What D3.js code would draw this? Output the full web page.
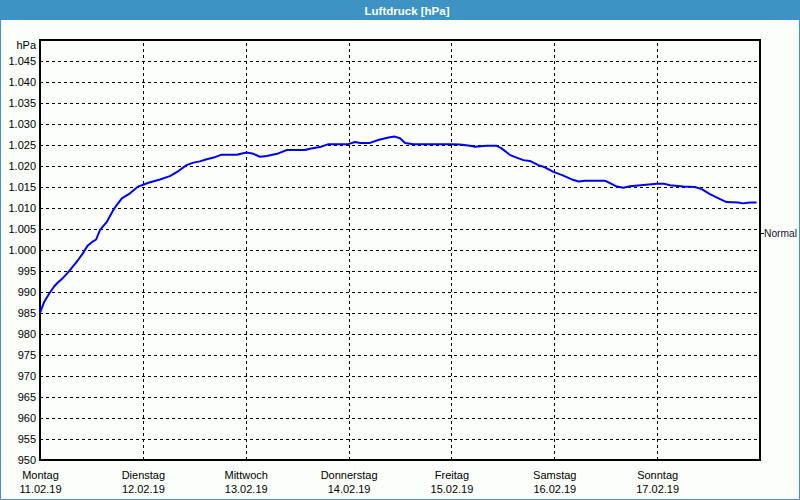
<!DOCTYPE html>
<html>
<head>
<meta charset="utf-8">
<script src="https://cdn.jsdelivr.net/npm/d3@7"></script>
<style>
  html, body { margin: 0; padding: 0; background: #fbfefb; }
  svg { display: block; }
  text { font-family: "Liberation Sans", Arial, sans-serif; }
</style>
</head>
<body>
<svg id="chart" width="800" height="500"></svg>
<script>
// ---- data ----
const title = "Luftdruck [hPa]";
const unitLabel = "hPa";
const dayNames = ["Montag", "Dienstag", "Mittwoch", "Donnerstag", "Freitag", "Samstag", "Sonntag"];
const dayDates = ["11.02.19", "12.02.19", "13.02.19", "14.02.19", "15.02.19", "16.02.19", "17.02.19"];
const yTicks = [950, 955, 960, 965, 970, 975, 980, 985, 990, 995, 1000, 1005, 1010, 1015, 1020, 1025, 1030, 1035, 1040, 1045];
const normalValue = 1004;
const normalLabel = "Normal";
// hours since Monday 00:00
const hours = [0, 1.0, 2.2, 3.3, 4.1, 5.3, 6.5, 7.6, 8.8, 10.0, 11.1, 12.3, 13.1, 14.0, 15.6, 17.1, 17.9, 19.1, 21.0, 22.9,
  25.3, 28.0, 30.3, 32.3, 34.2, 35.8, 37.3, 38.9, 40.8, 42.4, 45.9, 48.2, 49.8, 51.3, 52.9, 55.6, 57.6, 61.8, 63.0, 65.3,
  67.3, 71.9, 73.5, 74.7, 77.0, 78.9, 81.3, 82.8, 84.0, 85.2, 87.1, 96.1, 98.0, 100.3, 101.5, 104.2, 106.6, 107.7, 109.7, 111.2,
  112.8, 114.3, 116.3, 117.8, 119.8, 121.7, 124.1, 125.7, 127.2, 131.8, 133.0, 134.6, 136.1, 137.7, 140.8, 143.9, 145.5, 147.0, 150.1, 152.8,
  154.4, 156.3, 158.7, 160.2, 162.9, 164.0, 165.7, 167.2];
const pressure = [985.0, 987.7, 989.7, 991.3, 992.2, 993.3, 994.6, 996.0, 997.5, 999.2, 1001.0, 1002.0, 1002.5, 1004.8, 1006.7, 1009.5, 1010.7, 1012.3, 1013.5, 1015.1,
  1016.0, 1016.8, 1017.6, 1018.8, 1020.2, 1020.8, 1021.1, 1021.6, 1022.1, 1022.7, 1022.7, 1023.2, 1022.9, 1022.2, 1022.4, 1023.0, 1023.8, 1023.8, 1024.1, 1024.5,
  1025.2, 1025.2, 1025.7, 1025.5, 1025.5, 1026.2, 1026.8, 1027.0, 1026.6, 1025.5, 1025.2, 1025.2, 1025.1, 1024.8, 1024.6, 1024.8, 1024.8, 1024.2, 1022.6, 1022.0,
  1021.4, 1021.2, 1020.2, 1019.7, 1018.6, 1017.9, 1016.8, 1016.3, 1016.5, 1016.5, 1015.9, 1015.1, 1014.8, 1015.2, 1015.5, 1015.8, 1015.8, 1015.4, 1015.1, 1015.0,
  1014.5, 1013.3, 1012.1, 1011.4, 1011.3, 1011.1, 1011.3, 1011.3];

(function () {
// ---- layout ----
const W = 800, H = 500;
const pL = 40, pR = 760, pT = 40, pB = 460;

const svg = d3.select("#chart");
const de = d3.formatLocale({decimal: ",", thousands: ".", grouping: [3], currency: ["", "€"]});
const fmt = de.format(",d");

const x = d3.scaleLinear().domain([0, 168]).range([pL, pR]);
const y = d3.scaleLinear().domain([950, 1050]).range([pB, pT]);
const dayTicks = d3.range(dayNames.length).map(i => i * 24);

// background
svg.append("rect").attr("x", 0).attr("y", 0).attr("width", W).attr("height", H).attr("fill", "#fbfefb");

// title bar
svg.append("rect").attr("x", 0).attr("y", 0).attr("width", W).attr("height", 20).attr("fill", "#3d93c4");
svg.append("text").attr("x", 407).attr("y", 14.5).attr("text-anchor", "middle")
  .attr("fill", "#ffffff").attr("font-size", 11.5).attr("font-weight", "bold").text(title);

// outer frame
svg.append("path").attr("d", `M0.5,20 V${H - 0.5} H${W - 0.5} V20`)
  .attr("fill", "none").attr("stroke", "#4a90c2").attr("stroke-width", 1);

// horizontal grid
const gridY = svg.append("g").attr("transform", `translate(${pL},0)`)
  .call(d3.axisLeft(y).tickValues(yTicks.filter(v => v > 950)).tickSize(-(pR - pL)).tickFormat(""));
gridY.select(".domain").remove();
gridY.selectAll("line").attr("stroke", "#000").attr("stroke-dasharray", "3,3").attr("shape-rendering", "crispEdges");

// vertical grid
const gridX = svg.append("g").attr("transform", `translate(0,${pB})`)
  .call(d3.axisBottom(x).tickValues(dayTicks.filter(v => v > 0)).tickSize(-(pB - pT)).tickFormat(""));
gridX.select(".domain").remove();
gridX.selectAll("line").attr("stroke", "#000").attr("stroke-dasharray", "3,3").attr("shape-rendering", "crispEdges");

// plot frame
svg.append("rect").attr("x", pL).attr("y", pT).attr("width", pR - pL).attr("height", pB - pT)
  .attr("fill", "none").attr("stroke", "#000").attr("stroke-width", 1.3).attr("shape-rendering", "crispEdges");

// y axis labels
const yAxis = svg.append("g").attr("transform", `translate(${pL},0)`)
  .call(d3.axisLeft(y).tickValues(yTicks).tickSize(0).tickPadding(4).tickFormat(fmt));
yAxis.select(".domain").remove();
yAxis.selectAll("text").attr("font-size", 11).attr("fill", "#000")
  .attr("font-family", "'Liberation Sans', Arial, sans-serif");
svg.append("text").attr("x", pL - 4).attr("y", 49).attr("text-anchor", "end")
  .attr("font-size", 11).attr("fill", "#000").text(unitLabel);

// x axis labels (two lines)
const xAxis = svg.append("g").attr("transform", `translate(0,${pB})`)
  .call(d3.axisBottom(x).tickValues(dayTicks).tickSize(0).tickFormat(""));
xAxis.select(".domain").remove();
xAxis.selectAll(".tick").each(function(d, i) {
  const g = d3.select(this);
  g.append("text").attr("y", 19).attr("text-anchor", "middle").attr("font-size", 11).attr("fill", "#000").text(dayNames[i]);
  g.append("text").attr("y", 33).attr("text-anchor", "middle").attr("font-size", 11).attr("fill", "#000").text(dayDates[i]);
});

// normal marker
svg.append("line").attr("x1", pR + 1).attr("x2", pR + 4).attr("y1", y(normalValue)).attr("y2", y(normalValue))
  .attr("stroke", "#000").attr("shape-rendering", "crispEdges");
svg.append("text").attr("x", pR + 4).attr("y", y(normalValue) + 4).attr("font-size", 10.5)
  .attr("textLength", 33).attr("lengthAdjust", "spacingAndGlyphs")
  .attr("fill", "#111133").text(normalLabel);

// pressure line
const pts = hours.map((h, i) => [h, pressure[i]]);
svg.append("path").datum(pts)
  .attr("fill", "none").attr("stroke", "#0000f0").attr("stroke-width", 2).attr("stroke-linejoin", "round")
  .attr("d", d3.line().x(d => x(d[0])).y(d => y(d[1])));
})();
</script>
</body>
</html>
